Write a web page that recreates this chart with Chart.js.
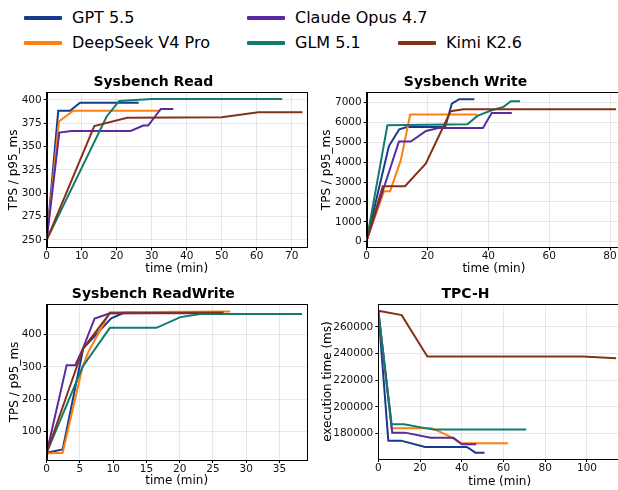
<!DOCTYPE html>
<html>
<head>
<meta charset="utf-8">
<script src="https://cdn.jsdelivr.net/npm/chart.js@4.4.1/dist/chart.umd.min.js"></script>
<style>
  body { margin:0; width:618px; height:490px; overflow:hidden; background:#fff; position:relative; font-family:"DejaVu Sans", sans-serif; }
  canvas { position:absolute; }
  .leg-line { position:absolute; height:4px; width:38px; border-radius:1px; }
  .leg-text { position:absolute; font-size:16px; line-height:16px; color:#000; white-space:nowrap; }
</style>
</head>
<body>
<canvas id="cRead" width="310" height="210" style="left:0;top:70px"></canvas>
<canvas id="cWrite" width="315" height="210" style="left:310px;top:70px"></canvas>
<canvas id="cRW" width="310" height="210" style="left:0;top:280px"></canvas>
<canvas id="cTPCH" width="315" height="210" style="left:310px;top:280px"></canvas>
<div id="legend"></div>
<script>
// series order matches the legend columns
const names = ['GPT 5.5', 'DeepSeek V4 Pro', 'Claude Opus 4.7', 'GLM 5.1', 'Kimi K2.6'];
const colors = ['#163b8e', '#ff7f0e', '#5a2ba0', '#137a6e', '#85311a'];

// Sysbench Read: [time (min), TPS / p95_ms]
const readGPT = [[0,250],[3.3,388.5],[6.7,388.5],[9.5,397],[26.3,397]];
const readDeepSeek = [[0,250],[3.5,377],[7.6,388.5],[32.5,388.5]];
const readClaude = [[0,250],[3.6,365],[7.1,366.7],[24,366.7],[27.6,372.5],[29,372.5],[32.6,390.4],[36.2,390.4]];
const readGLM = [[0,250],[17.1,382],[20.7,399],[30,401],[67.3,401]];
const readKimi = [[0,250],[13.6,372],[23,381],[50,381.5],[60.5,386.8],[73.1,386.8]];

// Sysbench Write
const writeGPT = [[0,70],[7.3,4815],[10.7,5657],[13.2,5774],[25.8,5774],[28,6953],[30.4,7172],[35.4,7172]];
const writeDeepSeek = [[0,70],[5.7,2542],[7.7,2542],[11.2,4091],[14.3,6397],[36.4,6397]];
const writeClaude = [[0,70],[10.6,5040],[14.5,5040],[19.5,5572],[23.6,5724],[38.2,5724],[41.1,6481],[47.7,6481]];
const writeGLM = [[0,70],[6.8,5859],[33.1,5909],[36.4,6330],[41.1,6616],[45,6785],[47.4,7070],[50.4,7070]];
const writeKimi = [[0,70],[5.3,2795],[12.6,2795],[19.4,3923],[27.6,6566],[31.8,6667],[82,6667]];

// Sysbench ReadWrite
const rwGPT = [[0,35],[2.4,45],[5.5,357],[9.7,449],[11.8,468],[24.6,468]];
const rwDeepSeek = [[0,33],[2.4,35],[5.4,300],[6.3,347],[9.5,468],[27.6,470]];
const rwClaude = [[0,35],[3.0,305],[4.3,305],[5.5,359],[7.2,449],[9.5,465],[24.6,465]];
const rwGLM = [[0,35],[5.4,300],[9.5,420],[16.5,420],[20.1,453],[23.1,463],[38.4,463]];
const rwKimi = [[0,35],[5.5,357],[9.5,465],[26.6,467]];

// TPC-H: execution time (ms)
const tpchGPT = [[0,272000],[4.8,174750],[10.9,174750],[22.4,170000],[42.4,170000],[46.6,165750],[50.9,165750]];
const tpchDeepSeek = [[0,272000],[6.4,184000],[25.6,184000],[30.4,180750],[34.4,177750],[39.5,172750],[62.1,172750]];
const tpchClaude = [[0,272000],[6.7,180750],[12.8,180750],[25.1,177000],[36,177000],[40,172000],[46.9,172000]];
const tpchGLM = [[0,272000],[6.4,187000],[12.3,187000],[26.4,183000],[70.9,183000]];
const tpchKimi = [[0,272000],[11.2,268750],[23.5,237750],[98,237750],[114,236500]];

// tick labels
const readXTicks = [0,10,20,30,40,50,60,70];
const readYTicks = [250,275,300,325,350,375,400];
const writeXTicks = [0,20,40,60,80];
const writeYTicks = [0,1000,2000,3000,4000,5000,6000,7000];
const rwXTicks = [0,5,10,15,20,25,30,35];
const rwYTicks = [100,200,300,400];
const tpchXTicks = [0,20,40,60,80,100];
const tpchYTicks = [180000,200000,220000,240000,260000];

const FONT = 'DejaVu Sans';
const GRID = 'rgba(0,0,0,0.09)';

// legend (HTML)
const legendPos = [[24,18],[24,43],[247,18],[247,43],[398,43]];
const legend = document.getElementById('legend');
names.forEach((n, i) => {
  const [x, y] = legendPos[i];
  const ln = document.createElement('div');
  ln.className = 'leg-line';
  ln.style.left = x + 'px'; ln.style.top = (y - 2) + 'px'; ln.style.background = colors[i];
  const tx = document.createElement('div');
  tx.className = 'leg-text';
  tx.style.left = (x + 48) + 'px'; tx.style.top = (y - 8) + 'px';
  tx.textContent = n;
  legend.appendChild(ln); legend.appendChild(tx);
});

// full box around the plot, like matplotlib spines
const frame = {
  id: 'frame',
  afterDraw(chart) {
    const {ctx, chartArea: a} = chart;
    ctx.save();
    ctx.strokeStyle = '#000';
    ctx.lineWidth = 1;
    ctx.strokeRect(Math.round(a.left) + 0.5, Math.round(a.top) + 0.5, Math.round(a.right - a.left), Math.round(a.bottom - a.top));
    ctx.restore();
  }
};

function makeChart(c) {
  return new Chart(document.getElementById(c.id), {
    type: 'line',
    data: {
      datasets: c.series.map((s, i) => ({
        label: names[i],
        data: s.map(p => ({x: p[0], y: p[1]})),
        borderColor: colors[i],
        backgroundColor: colors[i],
        borderWidth: 2,
        pointRadius: 0,
        tension: 0,
        fill: false,
        order: names.length - i
      }))
    },
    options: {
      responsive: false,
      animation: false,
      events: [],
      layout: { padding: { left: 0, right: c.pad.right, top: 0, bottom: 0 } },
      plugins: {
        legend: { display: false },
        tooltip: { enabled: false },
        title: {
          display: true, text: c.title, color: '#000',
          font: { family: FONT, size: 14, weight: 'bold' },
          padding: { top: c.pad.titleTop, bottom: c.pad.titleBottom }
        }
      },
      scales: {
        x: {
          type: 'linear', min: 0, max: c.xMax,
          afterBuildTicks: a => { a.ticks = c.xTicks.map(v => ({value: v})); },
          afterFit: s => { s.height = c.pad.bottom; },
          grid: { color: GRID, tickColor: '#000', tickLength: 3 },
          border: { color: '#000' },
          ticks: { color: '#111', font: { family: FONT, size: 10.5 }, padding: 0, maxRotation: 0, autoSkip: false, callback: v => String(v) },
          title: { display: true, text: 'time (min)', color: '#000', font: { family: FONT, size: 12 }, padding: { top: 0, bottom: c.pad.xTitle } }
        },
        y: {
          type: 'linear', min: c.yMin, max: c.yMax,
          afterBuildTicks: a => { a.ticks = c.yTicks.map(v => ({value: v})); },
          afterFit: s => { s.width = c.pad.left; },
          grid: { color: GRID, tickColor: '#000', tickLength: 3 },
          border: { color: '#000' },
          ticks: { color: '#111', font: { family: FONT, size: 10.5 }, padding: 2, autoSkip: false, callback: v => String(v) },
          title: { display: true, text: c.yLabel, color: '#000', font: { family: FONT, size: 12 }, padding: { top: c.pad.yTitle, bottom: 0 } }
        }
      }
    },
    plugins: [frame]
  });
}

makeChart({
  id: 'cRead', title: 'Sysbench Read', yLabel: 'TPS / p95_ms',
  series: [readGPT, readDeepSeek, readClaude, readGLM, readKimi],
  xTicks: readXTicks, yTicks: readYTicks, xMax: 74.3, yMin: 242.1, yMax: 408.2,
  pad: { left: 46.7, right: 3.3, bottom: 32.7, titleTop: 4.3, titleBottom: 1.2, xTitle: 3.8, yTitle: 6.8 }
});
makeChart({
  id: 'cWrite', title: 'Sysbench Write', yLabel: 'TPS / p95_ms',
  series: [writeGPT, writeDeepSeek, writeClaude, writeGLM, writeKimi],
  xTicks: writeXTicks, yTicks: writeYTicks, xMax: 83.6, yMin: -285, yMax: 7520,
  pad: { left: 56.7, right: 4, bottom: 32.7, titleTop: 4.3, titleBottom: 1.2, xTitle: 3.8, yTitle: 10.1 }
});
makeChart({
  id: 'cRW', title: 'Sysbench ReadWrite', yLabel: 'TPS / p95_ms',
  series: [rwGPT, rwDeepSeek, rwClaude, rwGLM, rwKimi],
  xTicks: rwXTicks, yTicks: rwYTicks, xMax: 39.1, yMin: 12.6, yMax: 493.5,
  pad: { left: 46.7, right: 3.3, bottom: 30, titleTop: 5.9, titleBottom: 1.3, xTitle: 1.8, yTitle: 7.8 }
});
makeChart({
  id: 'cTPCH', title: 'TPC-H', yLabel: 'execution time (ms)',
  series: [tpchGPT, tpchDeepSeek, tpchClaude, tpchGLM, tpchKimi],
  xTicks: tpchXTicks, yTicks: tpchYTicks, xMax: 116.3, yMin: 161000, yMax: 277000,
  pad: { left: 68.3, right: 4, bottom: 31, titleTop: 5.9, titleBottom: 1.4, xTitle: 1.1, yTitle: 11.1 }
});
</script>
</body>
</html>
